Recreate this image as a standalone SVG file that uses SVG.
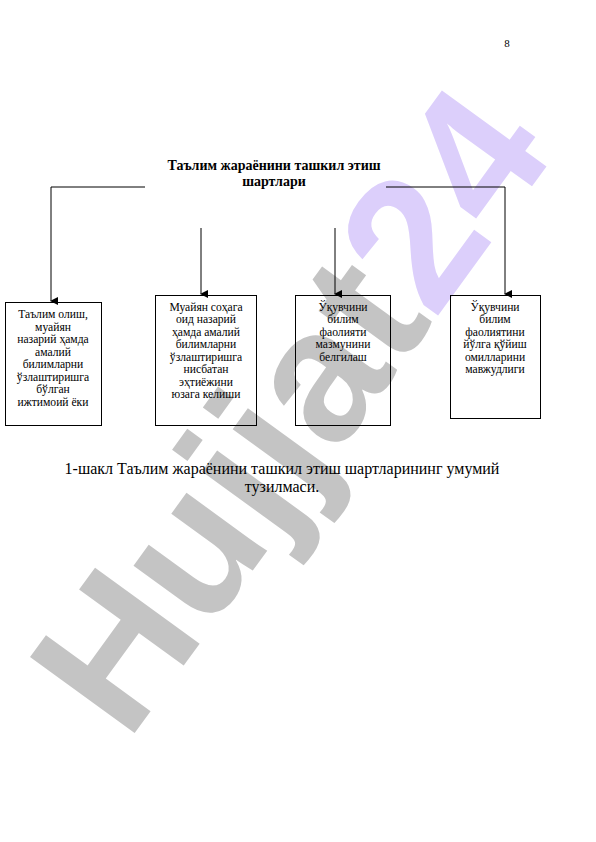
<svg xmlns="http://www.w3.org/2000/svg" width="596" height="842" viewBox="0 0 596 842">
<style>
.t{font-family:"Liberation Serif","Times New Roman",serif;fill:#000}
.b{font-size:11.6px;text-anchor:middle}
.box{fill:none;stroke:#000;stroke-width:1}
.ln{fill:none;stroke:#000;stroke-width:1}
.wm{font-family:"Liberation Sans",Arial,sans-serif;font-weight:bold;font-size:188px}
</style>
<defs>
<marker id="ah" markerWidth="8" markerHeight="8" refX="4" refY="7" orient="auto" markerUnits="userSpaceOnUse" viewBox="0 0 8 8">
<path d="M0,0 L8,0 L4,8 Z" fill="#000"/>
</marker>
</defs>
<rect width="596" height="842" fill="#fff"/>
<g id="watermark">
<text class="wm" transform="translate(288,408) rotate(-54)" x="0" y="67" text-anchor="middle"><tspan fill="#c4c4c4">Hujjat</tspan><tspan fill="#dccffb">24</tspan></text>
</g>
<text class="t" x="507" y="47" font-size="11" text-anchor="middle">8</text>
<g id="title">
<text class="t" x="274" y="170" font-size="14" font-weight="bold" text-anchor="middle">Таълим жараёнини ташкил этиш</text>
<text class="t" x="274" y="186" font-size="14" font-weight="bold" text-anchor="middle">шартлари</text>
</g>
<g id="connectors">
<path class="ln" d="M145,187 H51 V301" marker-end="url(#ah)"/>
<path class="ln" d="M386,187 H505 V294" marker-end="url(#ah)"/>
<path class="ln" d="M201,228 V294" marker-end="url(#ah)"/>
<path class="ln" d="M335,228 V294" marker-end="url(#ah)"/>
</g>
<g id="node1">
<rect class="box" x="5.5" y="302.5" width="96" height="123"/>
<text class="t b"><tspan x="53" y="318">Таълим олиш,</tspan><tspan x="53" y="331">муайян</tspan><tspan x="53" y="343">назарий ҳамда</tspan><tspan x="53" y="356">амалий</tspan><tspan x="53" y="368">билимларни</tspan><tspan x="53" y="381">ўзлаштиришга</tspan><tspan x="53" y="393">бўлган</tspan><tspan x="53" y="406">ижтимоий ёки</tspan></text>
</g>
<g id="node2">
<rect class="box" x="155.5" y="295.5" width="101" height="130"/>
<text class="t b"><tspan x="206" y="311">Муайян соҳага</tspan><tspan x="206" y="323">оид назарий</tspan><tspan x="206" y="336">ҳамда амалий</tspan><tspan x="206" y="348">билимларни</tspan><tspan x="206" y="361">ўзлаштиришга</tspan><tspan x="206" y="373">нисбатан</tspan><tspan x="206" y="386">эҳтиёжини</tspan><tspan x="206" y="398">юзага келиши</tspan></text>
</g>
<g id="node3">
<rect class="box" x="295.5" y="295.5" width="95" height="130"/>
<text class="t b"><tspan x="343" y="311">Ўқувчини</tspan><tspan x="343" y="323">билим</tspan><tspan x="343" y="336">фаолияти</tspan><tspan x="343" y="348">мазмунини</tspan><tspan x="343" y="361">белгилаш</tspan></text>
</g>
<g id="node4">
<rect class="box" x="450.5" y="295.5" width="90" height="123"/>
<text class="t b"><tspan x="495" y="311">Ўқувчини</tspan><tspan x="495" y="323">билим</tspan><tspan x="495" y="336">фаолиятини</tspan><tspan x="495" y="348">йўлга қўйиш</tspan><tspan x="495" y="361">омилларини</tspan><tspan x="495" y="373">мавжудлиги</tspan></text>
</g>
<g id="caption">
<text class="t" x="282" y="474" font-size="16" text-anchor="middle">1-шакл Таълим жараёнини ташкил этиш шартларининг умумий</text>
<text class="t" x="282" y="492" font-size="16" text-anchor="middle">тузилмаси.</text>
</g>
</svg>
